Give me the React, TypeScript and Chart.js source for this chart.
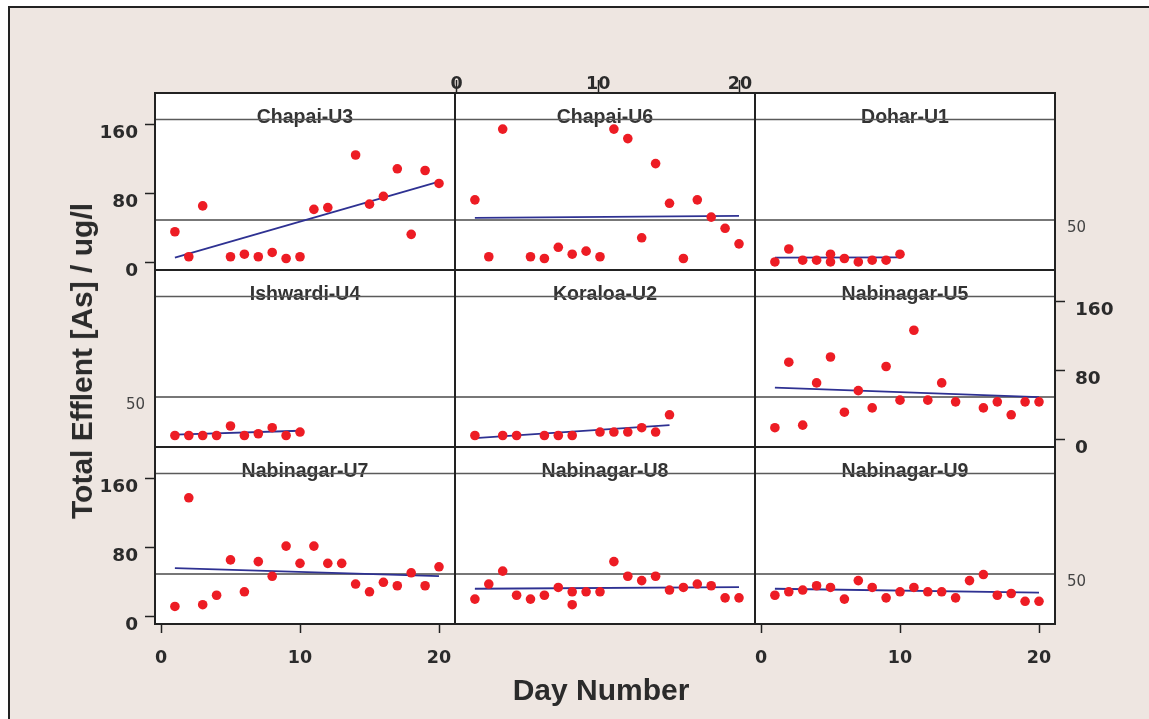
import React, { useEffect, useRef } from "react";
import { Chart, registerables } from "chart.js";

Chart.register(...registerables);

// ---------------- data ----------------
const dayTicks = [0, 10, 20];
const valueTicks = [0, 80, 160];
const referenceLevels = [50];

const yAxisTitle = "Total Efflent [As] / ug/l";
const xAxisTitle = "Day Number";

const chapaiU3Days = [1, 2, 3, 5, 6, 7, 8, 9, 10, 11, 12, 14, 15, 16, 17, 18, 19, 20];
const chapaiU3Values = [36, 7, 66, 7, 10, 7, 12, 5, 7, 62, 64, 125, 68, 77, 109, 33, 107, 92];
const chapaiU3FitDays = [1, 20];
const chapaiU3FitValues = [6, 94];

const chapaiU6Days = [1, 2, 3, 5, 6, 7, 8, 9, 10, 11, 12, 13, 14, 15, 16, 17, 18, 19, 20];
const chapaiU6Values = [73, 7, 155, 7, 5, 18, 10, 13.5, 7, 155, 144, 29, 115, 69, 5, 73, 53, 40, 22];
const chapaiU6FitDays = [1, 20];
const chapaiU6FitValues = [52, 54.5];

const doharU1Days = [1, 2, 3, 4, 5, 5, 6, 7, 8, 9, 10];
const doharU1Values = [1, 16, 3, 3, 10, 1, 5, 1, 3, 3, 10];
const doharU1FitDays = [1, 10];
const doharU1FitValues = [6, 6.3];

const ishwardiU4Days = [1, 2, 3, 4, 5, 6, 7, 8, 9, 10];
const ishwardiU4Values = [5, 5, 5, 5, 16, 5, 7, 14, 5, 9];
const ishwardiU4FitDays = [1, 10];
const ishwardiU4FitValues = [6, 10.5];

const koraloaU2Days = [1, 3, 4, 6, 7, 8, 10, 11, 12, 13, 14, 15];
const koraloaU2Values = [5, 5, 5, 5, 5, 5, 9, 9, 9, 14, 9, 29];
const koraloaU2FitDays = [1, 15];
const koraloaU2FitValues = [2, 17];

const nabinagarU5Days = [1, 2, 3, 4, 5, 6, 7, 8, 9, 10, 11, 12, 13, 14, 16, 17, 18, 19, 20];
const nabinagarU5Values = [14, 90, 17, 66, 96, 32, 57, 37, 85, 46, 127, 46, 66, 44, 37, 44, 29, 44, 44];
const nabinagarU5FitDays = [1, 20];
const nabinagarU5FitValues = [60.6, 49.4];

const nabinagarU7Days = [1, 2, 3, 4, 5, 6, 7, 8, 9, 10, 11, 12, 13, 14, 15, 16, 17, 18, 19, 20];
const nabinagarU7Values = [12, 138, 14, 25, 66, 29, 64, 47, 82, 62, 82, 62, 62, 38, 29, 40, 36, 51, 36, 58];
const nabinagarU7FitDays = [1, 20];
const nabinagarU7FitValues = [56.4, 47.1];

const nabinagarU8Days = [1, 2, 3, 4, 5, 6, 7, 8, 8, 9, 10, 11, 12, 13, 14, 15, 16, 17, 18, 19, 20];
const nabinagarU8Values = [20.5, 38, 53, 25, 20.5, 25, 34, 29, 14, 29, 29, 64, 47, 42, 47, 31, 34, 38, 36, 22, 22];
const nabinagarU8FitDays = [1, 20];
const nabinagarU8FitValues = [32.5, 34.5];

const nabinagarU9Days = [1, 2, 3, 4, 5, 6, 7, 8, 9, 10, 11, 12, 13, 14, 15, 16, 17, 18, 19, 20];
const nabinagarU9Values = [25, 29, 31, 36, 34, 20.5, 42, 34, 22, 29, 34, 29, 29, 22, 42, 49, 25, 27, 18, 18];
const nabinagarU9FitDays = [1, 20];
const nabinagarU9FitValues = [32.5, 28];

type PanelData = {
  title: string;
  days: number[];
  values: number[];
  fitDays: number[];
  fitValues: number[];
};

const panels: PanelData[] = [
  { title: "Chapai-U3", days: chapaiU3Days, values: chapaiU3Values, fitDays: chapaiU3FitDays, fitValues: chapaiU3FitValues },
  { title: "Chapai-U6", days: chapaiU6Days, values: chapaiU6Values, fitDays: chapaiU6FitDays, fitValues: chapaiU6FitValues },
  { title: "Dohar-U1", days: doharU1Days, values: doharU1Values, fitDays: doharU1FitDays, fitValues: doharU1FitValues },
  { title: "Ishwardi-U4", days: ishwardiU4Days, values: ishwardiU4Values, fitDays: ishwardiU4FitDays, fitValues: ishwardiU4FitValues },
  { title: "Koraloa-U2", days: koraloaU2Days, values: koraloaU2Values, fitDays: koraloaU2FitDays, fitValues: koraloaU2FitValues },
  { title: "Nabinagar-U5", days: nabinagarU5Days, values: nabinagarU5Values, fitDays: nabinagarU5FitDays, fitValues: nabinagarU5FitValues },
  { title: "Nabinagar-U7", days: nabinagarU7Days, values: nabinagarU7Values, fitDays: nabinagarU7FitDays, fitValues: nabinagarU7FitValues },
  { title: "Nabinagar-U8", days: nabinagarU8Days, values: nabinagarU8Values, fitDays: nabinagarU8FitDays, fitValues: nabinagarU8FitValues },
  { title: "Nabinagar-U9", days: nabinagarU9Days, values: nabinagarU9Values, fitDays: nabinagarU9FitDays, fitValues: nabinagarU9FitValues },
];

// ---------------- layout ----------------
const PANEL_W = 300;
const PANEL_H = 177;
const COL_LEFT = [155, 455, 755];
const ROW_TOP = [93, 270, 447];
const STRIP_LINE = 26.5;
const TITLE_BASELINE = 29.5;
const M = { l: 110, r: 110, t: 70, b: 70 };

const X_PX = 13.9; // px per day
const X_ZERO = 6; // px from panel left to day 0
const XT_PX = 14.17; // top axis (slightly shifted as in the reference)
const XT_ZERO = 1.5;
const Y_PX = 0.8625; // px per ug/l
const Y_ZERO = 7.2; // px from panel bottom to value 0

const RED = "#ED1C24";
const NAVY = "#2E3192";
const TEXT = "#2b2b2b";

const decorPlugin = {
  id: "panelDecor",
  beforeDraw(chart: any) {
    const { ctx, chartArea: a } = chart;
    ctx.save();
    ctx.fillStyle = "#ffffff";
    ctx.fillRect(a.left, a.top, a.right - a.left, a.bottom - a.top);
    ctx.restore();
  },
  afterDraw(chart: any, _args: any, opts: any) {
    const { ctx, chartArea: a } = chart;
    const w = a.right - a.left;
    ctx.save();
    ctx.fillStyle = "#ffffff";
    ctx.fillRect(a.left, a.top, w, STRIP_LINE);
    ctx.font = 'bold 19.5px "Liberation Sans", Arial, sans-serif';
    ctx.fillStyle = "#333333";
    ctx.textAlign = "center";
    ctx.textBaseline = "alphabetic";
    ctx.fillText(opts.title, (a.left + a.right) / 2, a.top + TITLE_BASELINE);
    ctx.strokeStyle = "#5a5a5a";
    ctx.lineWidth = 1.5;
    ctx.beginPath();
    ctx.moveTo(a.left, a.top + STRIP_LINE);
    ctx.lineTo(a.right, a.top + STRIP_LINE);
    ctx.stroke();
    ctx.strokeStyle = "#222222";
    ctx.lineWidth = 2;
    ctx.strokeRect(a.left, a.top, w, a.bottom - a.top);
    ctx.restore();
  },
};

function PanelChart({ panel, row, col }: { panel: PanelData; row: number; col: number }) {
  const ref = useRef<HTMLCanvasElement | null>(null);

  useEffect(() => {
    const canvas = ref.current;
    if (!canvas) return;
    const showBottom = row === 2 && col !== 1;
    const showTop = row === 0 && col === 1;
    const showLeftVals = col === 0 && row !== 1;
    const showRightVals = col === 2 && row === 1;
    const refLeft = col === 0 && row === 1;
    const refRight = col === 2 && row !== 1;
    const leftUsed = showLeftVals || refLeft;
    const rightUsed = showRightVals || refRight;

    const xMin = -X_ZERO / X_PX;
    const xMax = xMin + PANEL_W / X_PX;
    const xtMin = -XT_ZERO / XT_PX;
    const xtMax = xtMin + PANEL_W / XT_PX;
    const yMin = -Y_ZERO / Y_PX;
    const yMax = yMin + PANEL_H / Y_PX;

    const tickFont = { family: '"DejaVu Sans", sans-serif', size: 18.5, weight: "bold" as const };
    const xTickFont = { family: '"DejaVu Sans", sans-serif', size: 17.5, weight: "bold" as const };
    const refFont = { family: '"DejaVu Sans", sans-serif', size: 15, weight: "normal" as const };
    const setTicks = (vals: number[]) => (s: any) => {
      s.ticks = vals.map((v) => ({ value: v }));
    };
    const fixW = (w: number) => (s: any) => {
      s.width = w;
    };
    const fixH = (h: number) => (s: any) => {
      s.height = h;
    };

    const scales: any = {
      x: {
        type: "linear",
        position: "bottom",
        min: xMin,
        max: xMax,
        display: showBottom,
        afterBuildTicks: setTicks(dayTicks),
        afterFit: fixH(showBottom ? M.b : 0),
        grid: { drawOnChartArea: false, drawTicks: true, tickLength: 9, tickColor: "#222", tickWidth: 1.5 },
        border: { display: false },
        ticks: { font: xTickFont, color: TEXT, padding: 14.5, maxRotation: 0, minRotation: 0, autoSkip: false },
      },
      y: {
        type: "linear",
        position: showRightVals ? "right" : "left",
        min: yMin,
        max: yMax,
        display: showLeftVals || showRightVals,
        afterBuildTicks: setTicks(valueTicks),
        afterFit: fixW(showLeftVals ? M.l : showRightVals ? M.r : 0),
        grid: { drawOnChartArea: false, drawTicks: true, tickLength: 10, tickColor: "#222", tickWidth: 1.5 },
        border: { display: false },
        ticks: { font: tickFont, color: TEXT, padding: showRightVals ? 10 : 7, labelOffset: 8.5, autoSkip: false },
      },
      yr: {
        type: "linear",
        position: refRight ? "right" : "left",
        min: yMin,
        max: yMax,
        display: true,
        afterBuildTicks: setTicks(referenceLevels),
        afterFit: fixW(refLeft ? M.l : refRight ? M.r : 0),
        grid: { drawOnChartArea: true, drawTicks: false, color: "#777777", lineWidth: 2 },
        border: { display: false },
        ticks: {
          display: refLeft || refRight,
          font: refFont,
          color: "#444444",
          padding: refRight ? 12 : 10,
          labelOffset: 8.5,
          autoSkip: false,
        },
      },
    };
    if (showTop) {
      scales.xt = {
        type: "linear",
        position: "top",
        min: xtMin,
        max: xtMax,
        display: true,
        afterBuildTicks: setTicks(dayTicks),
        afterFit: fixH(M.t),
        grid: { drawOnChartArea: false, drawTicks: true, tickLength: 13, tickColor: "#222", tickWidth: 1.5 },
        border: { display: false },
        ticks: { font: xTickFont, color: TEXT, padding: -14.5, maxRotation: 0, minRotation: 0, autoSkip: false },
      };
    }

    const chart = new Chart(canvas, {
      type: "scatter",
      data: {
        datasets: [
          {
            label: panel.title,
            data: panel.days.map((d, i) => ({ x: d, y: panel.values[i] })),
            backgroundColor: RED,
            borderColor: RED,
            borderWidth: 0,
            pointRadius: 4.8,
            pointHoverRadius: 4.8,
            order: 0,
            xAxisID: "x",
            yAxisID: "y",
          } as any,
          {
            label: panel.title + " fit",
            type: "line",
            data: panel.fitDays.map((d, i) => ({ x: d, y: panel.fitValues[i] })),
            borderColor: NAVY,
            backgroundColor: NAVY,
            borderWidth: 1.8,
            pointRadius: 0,
            showLine: true,
            fill: false,
            order: 1,
            xAxisID: "x",
            yAxisID: "y",
          } as any,
        ],
      },
      options: {
        animation: false,
        responsive: false,
        maintainAspectRatio: false,
        events: [],
        layout: {
          padding: {
            left: leftUsed ? 0 : M.l,
            right: rightUsed ? 0 : M.r,
            top: showTop ? 0 : M.t,
            bottom: showBottom ? 0 : M.b,
          },
        },
        scales,
        plugins: {
          legend: { display: false },
          tooltip: { enabled: false },
          title: { display: false },
          panelDecor: { title: panel.title },
        } as any,
      },
      plugins: [decorPlugin as any],
    });
    return () => chart.destroy();
  }, [panel, row, col]);

  const w = PANEL_W + M.l + M.r;
  const h = PANEL_H + M.t + M.b;
  return (
    <canvas
      ref={ref}
      width={w}
      height={h}
      style={{
        position: "absolute",
        left: COL_LEFT[col] - M.l,
        top: ROW_TOP[row] - M.t,
        width: w,
        height: h,
      }}
    />
  );
}

export default function App() {
  return (
    <div
      style={{
        position: "fixed",
        left: 0,
        top: 0,
        width: 1149,
        height: 719,
        background: "#ffffff",
        overflow: "hidden",
      }}
    >
      <div
        style={{
          position: "absolute",
          left: 8,
          top: 6,
          width: 1160,
          height: 730,
          background: "#EEE6E1",
          borderTop: "2px solid #222",
          borderLeft: "2px solid #222",
        }}
      />
      {panels.map((p, i) => (
        <PanelChart key={p.title} panel={p} row={Math.floor(i / 3)} col={i % 3} />
      ))}
      <div
        style={{
          position: "absolute",
          left: 82,
          top: 361,
          transform: "translate(-50%, -50%) rotate(-90deg)",
          whiteSpace: "nowrap",
          font: 'bold 30px "Liberation Sans", Arial, sans-serif',
          lineHeight: "1",
          color: "#2b2b2b",
        }}
      >
        {yAxisTitle}
      </div>
      <div
        style={{
          position: "absolute",
          left: 601,
          top: 690,
          transform: "translate(-50%, -50%)",
          whiteSpace: "nowrap",
          font: 'bold 30px "Liberation Sans", Arial, sans-serif',
          lineHeight: "1",
          color: "#2b2b2b",
        }}
      >
        {xAxisTitle}
      </div>
    </div>
  );
}
